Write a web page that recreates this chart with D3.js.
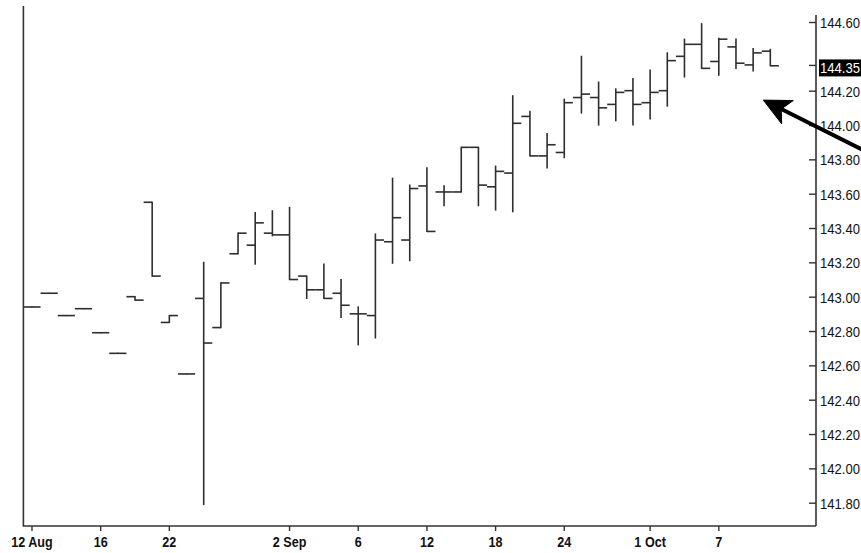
<!DOCTYPE html>
<html>
<head>
<meta charset="utf-8">
<script src="https://cdn.jsdelivr.net/npm/d3@7"></script>
<style>
  body { margin: 0; background: #fff; }
  svg { display: block; }
</style>
</head>
<body>
<script>
// trading days, 12 Aug .. 10 Oct
const days = [
  "12 Aug", "13 Aug", "14 Aug", "15 Aug", "16 Aug",
  "19 Aug", "20 Aug", "21 Aug", "22 Aug", "23 Aug",
  "26 Aug", "27 Aug", "28 Aug", "29 Aug", "30 Aug",
  "2 Sep", "3 Sep", "4 Sep", "5 Sep", "6 Sep",
  "9 Sep", "10 Sep", "11 Sep", "12 Sep", "13 Sep",
  "16 Sep", "17 Sep", "18 Sep", "19 Sep", "20 Sep",
  "23 Sep", "24 Sep", "25 Sep", "26 Sep", "27 Sep",
  "30 Sep", "1 Oct", "2 Oct", "3 Oct", "4 Oct",
  "7 Oct", "8 Oct", "9 Oct", "10 Oct"
];
const opens = [
  142.94, 143.02, 142.89, 142.93, 142.79, 142.67, 143.00, 143.55, 142.85, 142.55,
  142.99, 142.82, 143.25, 143.30, 143.37, 143.36, 143.12, 143.04, 143.02, 142.90,
  142.89, 143.32, 143.33, 143.645, 143.61, 143.61, 143.87, 143.64, 143.72, 144.05,
  143.82, 143.84, 144.16, 144.16, 144.12, 144.20, 144.13, 144.20, 144.40, 144.47,
  144.37, 144.455, 144.35, 144.43
];
const highs = [
  142.94, 143.02, 142.89, 142.93, 142.79, 142.67, 143.00, 143.55, 142.89, 142.55,
  143.20, 143.08, 143.37, 143.49, 143.50, 143.52, 143.12, 143.19, 143.10, 142.94,
  143.365, 143.69, 143.65, 143.75, 143.645, 143.87, 143.87, 143.76, 144.17, 144.08,
  143.95, 144.15, 144.40, 144.25, 144.21, 144.27, 144.32, 144.42, 144.50, 144.59,
  144.505, 144.50, 144.445, 144.44
];
const lows = [
  142.94, 143.02, 142.89, 142.93, 142.79, 142.67, 142.98, 143.12, 142.85, 142.55,
  141.79, 142.82, 143.25, 143.19, 143.355, 143.10, 142.99, 142.99, 142.88, 142.72,
  142.76, 143.195, 143.21, 143.38, 143.53, 143.61, 143.53, 143.505, 143.495, 143.82,
  143.75, 143.81, 144.07, 144.00, 144.025, 144.00, 144.035, 144.11, 144.28, 144.33,
  144.29, 144.33, 144.315, 144.345
];
const closes = [
  142.94, 143.02, 142.89, 142.93, 142.79, 142.67, 142.98, 143.12, 142.89, 142.55,
  142.73, 143.08, 143.37, 143.43, 143.36, 143.10, 143.04, 142.99, 142.95, 142.90,
  143.33, 143.46, 143.63, 143.38, 143.61, 143.87, 143.65, 143.73, 144.01, 143.82,
  143.885, 144.13, 144.18, 144.10, 144.19, 144.12, 144.19, 144.375, 144.47, 144.33,
  144.50, 144.36, 144.42, 144.345
];
const tickDays = ["12 Aug", "16 Aug", "22 Aug", "2 Sep", "6 Sep", "12 Sep", "18 Sep", "24 Sep", "1 Oct", "7 Oct"];
const tickLabels = ["12 Aug", "16", "22", "2 Sep", "6", "12", "18", "24", "1 Oct", "7"];
const priceTicks = [141.80, 142.00, 142.20, 142.40, 142.60, 142.80, 143.00, 143.20, 143.40, 143.60, 143.80, 144.00, 144.20, 144.60];
const lastPrice = 144.35;

const width = 861, height = 553;
const left = 23.4, right = 778.9, axisX = 816, bottom = 526;

const data = days.map((d, i) => ({day: d, o: opens[i], h: highs[i], l: lows[i], c: closes[i]}));

const x = d3.scaleBand()
    .domain(days)
    .range([left, right])
    .padding(0);

const y = d3.scaleLinear()
    .domain([141.80, 144.60])
    .range([502.7, 22]);

const svg = d3.select("body").append("svg")
    .attr("width", width)
    .attr("height", height)
    .attr("font-family", "'Liberation Sans', Arial, sans-serif");

// frame
svg.append("path")
    .attr("d", `M${left},6V${bottom}H${axisX}`)
    .attr("fill", "none")
    .attr("stroke", "#333")
    .attr("stroke-width", 1.6);

// bars
const bw = x.bandwidth();
const bar = svg.append("g")
    .attr("stroke", "#2e2e2e")
    .attr("stroke-width", 1.6)
    .selectAll("g")
    .data(data)
    .join("g")
    .attr("transform", d => `translate(${x(d.day) + bw / 2},0)`);

bar.append("line")
    .attr("y1", d => y(d.h) - 0.6)
    .attr("y2", d => y(d.l) + 0.6);

bar.append("line")
    .attr("x1", -bw / 2)
    .attr("x2", 0)
    .attr("y1", d => y(d.o))
    .attr("y2", d => y(d.o));

bar.append("line")
    .attr("x1", 0)
    .attr("x2", bw / 2)
    .attr("y1", d => y(d.c))
    .attr("y2", d => y(d.c));

// price axis
const yAxis = svg.append("g")
    .attr("transform", `translate(${axisX},0)`)
    .call(d3.axisRight(y)
        .tickValues(priceTicks.concat([lastPrice]))
        .tickSizeInner(0)
        .tickSizeOuter(0)
        .tickPadding(4)
        .tickFormat(d3.format(".2f")));
yAxis.select(".domain")
    .attr("d", `M0,15V${bottom}`)
    .attr("stroke", "#333")
    .attr("stroke-width", 1.6);
yAxis.selectAll(".tick line")
    .attr("x1", -7)
    .attr("x2", 0)
    .attr("stroke", "#333")
    .attr("stroke-width", 1.4);
yAxis.selectAll(".tick text")
    .attr("font-size", 15)
    .attr("fill", "#111")
    .attr("textLength", 40)
    .attr("lengthAdjust", "spacingAndGlyphs")
    .attr("dy", "0.36em");

// highlight last price
const lastTick = yAxis.selectAll(".tick").filter(d => d === lastPrice);
lastTick.insert("rect", "text")
    .attr("x", 3)
    .attr("y", -6)
    .attr("width", 43)
    .attr("height", 17)
    .attr("fill", "#000");
lastTick.select("text")
    .attr("fill", "#fff")
    .attr("dy", "0.52em");

// date axis
const xAxis = svg.append("g")
    .attr("transform", `translate(0,${bottom})`)
    .call(d3.axisBottom(x)
        .tickValues(tickDays)
        .tickSizeInner(5)
        .tickSizeOuter(0)
        .tickPadding(5)
        .tickFormat((d, i) => tickLabels[i]));
xAxis.select(".domain").remove();
xAxis.selectAll(".tick line")
    .attr("stroke", "#333")
    .attr("stroke-width", 1.4);
xAxis.selectAll(".tick text")
    .attr("font-size", 15)
    .attr("font-weight", "bold")
    .attr("fill", "#111")
    .attr("transform", "scale(0.84,1)");

// arrow pointing at the last bar
const tipX = x("10 Oct") + bw / 2 - 7;
const tipY = y(144.145);
const ang = Math.atan2(0.5, 1);
const ux = Math.cos(ang), uy = Math.sin(ang);
const arrow = svg.append("g").attr("fill", "#000").attr("stroke", "#000");
arrow.append("line")
    .attr("x1", tipX + 10 * ux)
    .attr("y1", tipY + 10 * uy)
    .attr("x2", tipX + 160 * ux)
    .attr("y2", tipY + 160 * uy)
    .attr("stroke-width", 4);
const rot = (a, r) => [tipX + r * Math.cos(ang + a), tipY + r * Math.sin(ang + a)];
arrow.append("polygon")
    .attr("stroke-width", 1)
    .attr("points", [[tipX, tipY], rot(-0.45, 30), rot(0, 20), rot(0.45, 30)].map(p => p.join(",")).join(" "));
</script>
</body>
</html>
